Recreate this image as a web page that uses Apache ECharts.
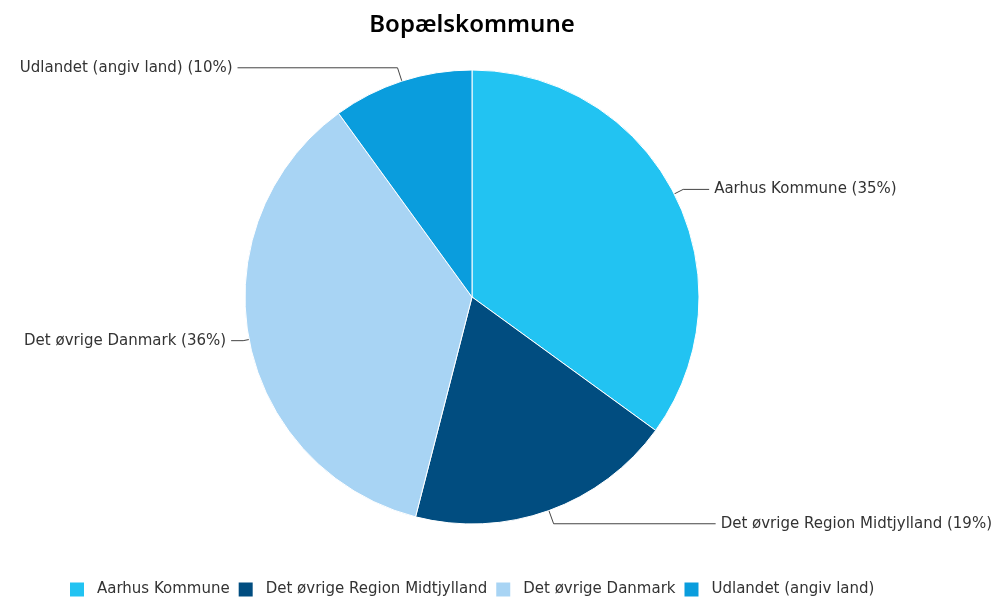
<!DOCTYPE html>
<html>
<head>
<meta charset="utf-8">
<script src="https://cdn.jsdelivr.net/npm/echarts@6/dist/echarts.min.js"></script>
<style>
  html, body { margin: 0; padding: 0; background: #fff; }
  #chart { width: 1002px; height: 600px; }
</style>
</head>
<body>
<div id="chart"></div>
<script>
var categories = ['Aarhus Kommune', 'Det øvrige Region Midtjylland', 'Det øvrige Danmark', 'Udlandet (angiv land)']
var values = [35, 19, 36, 10]
var colors = ['#22c3f2', '#014d80', '#a8d4f4', '#0a9ddd']
// label line lengths per slice [length, length2]
var lineLengths = [[10, 26], [14, 162], [6, 12], [14, 160]]

var myChart = echarts.init(document.getElementById('chart'))
var option = {
  title: {
    text: 'Bopælskommune',
    left: 467,
    textAlign: 'center',
    top: 8,
    textStyle: {
      fontFamily: 'Noto Sans',
      fontSize: 24,
      fontWeight: 600,
      color: '#000'
    }
  },
  legend: {
    top: 577,
    left: 65,
    itemWidth: 14,
    itemHeight: 14,
    itemGap: 9,
    icon: 'rect',
    itemStyle: { borderWidth: 0 },
    textStyle: {
      fontFamily: 'DejaVu Sans',
      fontSize: 15,
      color: '#333',
      padding: [0, 0, 0, 8]
    },
    data: categories
  },
  series: [
    {
      type: 'pie',
      center: [472, 297],
      radius: 227,
      startAngle: 90,
      clockwise: true,
      avoidLabelOverlap: false,
      itemStyle: {
        borderColor: '#fff',
        borderWidth: 1
      },
      label: {
        formatter: function (p) {
          return p.name + ' (' + p.value + '%)'
        },
        fontFamily: 'DejaVu Sans',
        fontSize: 15,
        color: '#333'
      },
      labelLine: {
        lineStyle: { color: '#444', width: 1 }
      },
      data: categories.map(function (name, i) {
        return {
          name: name,
          value: values[i],
          itemStyle: { color: colors[i] },
          labelLine: { length: lineLengths[i][0], length2: lineLengths[i][1] }
        }
      })
    }
  ]
}
myChart.setOption(option)
</script>
</body>
</html>
